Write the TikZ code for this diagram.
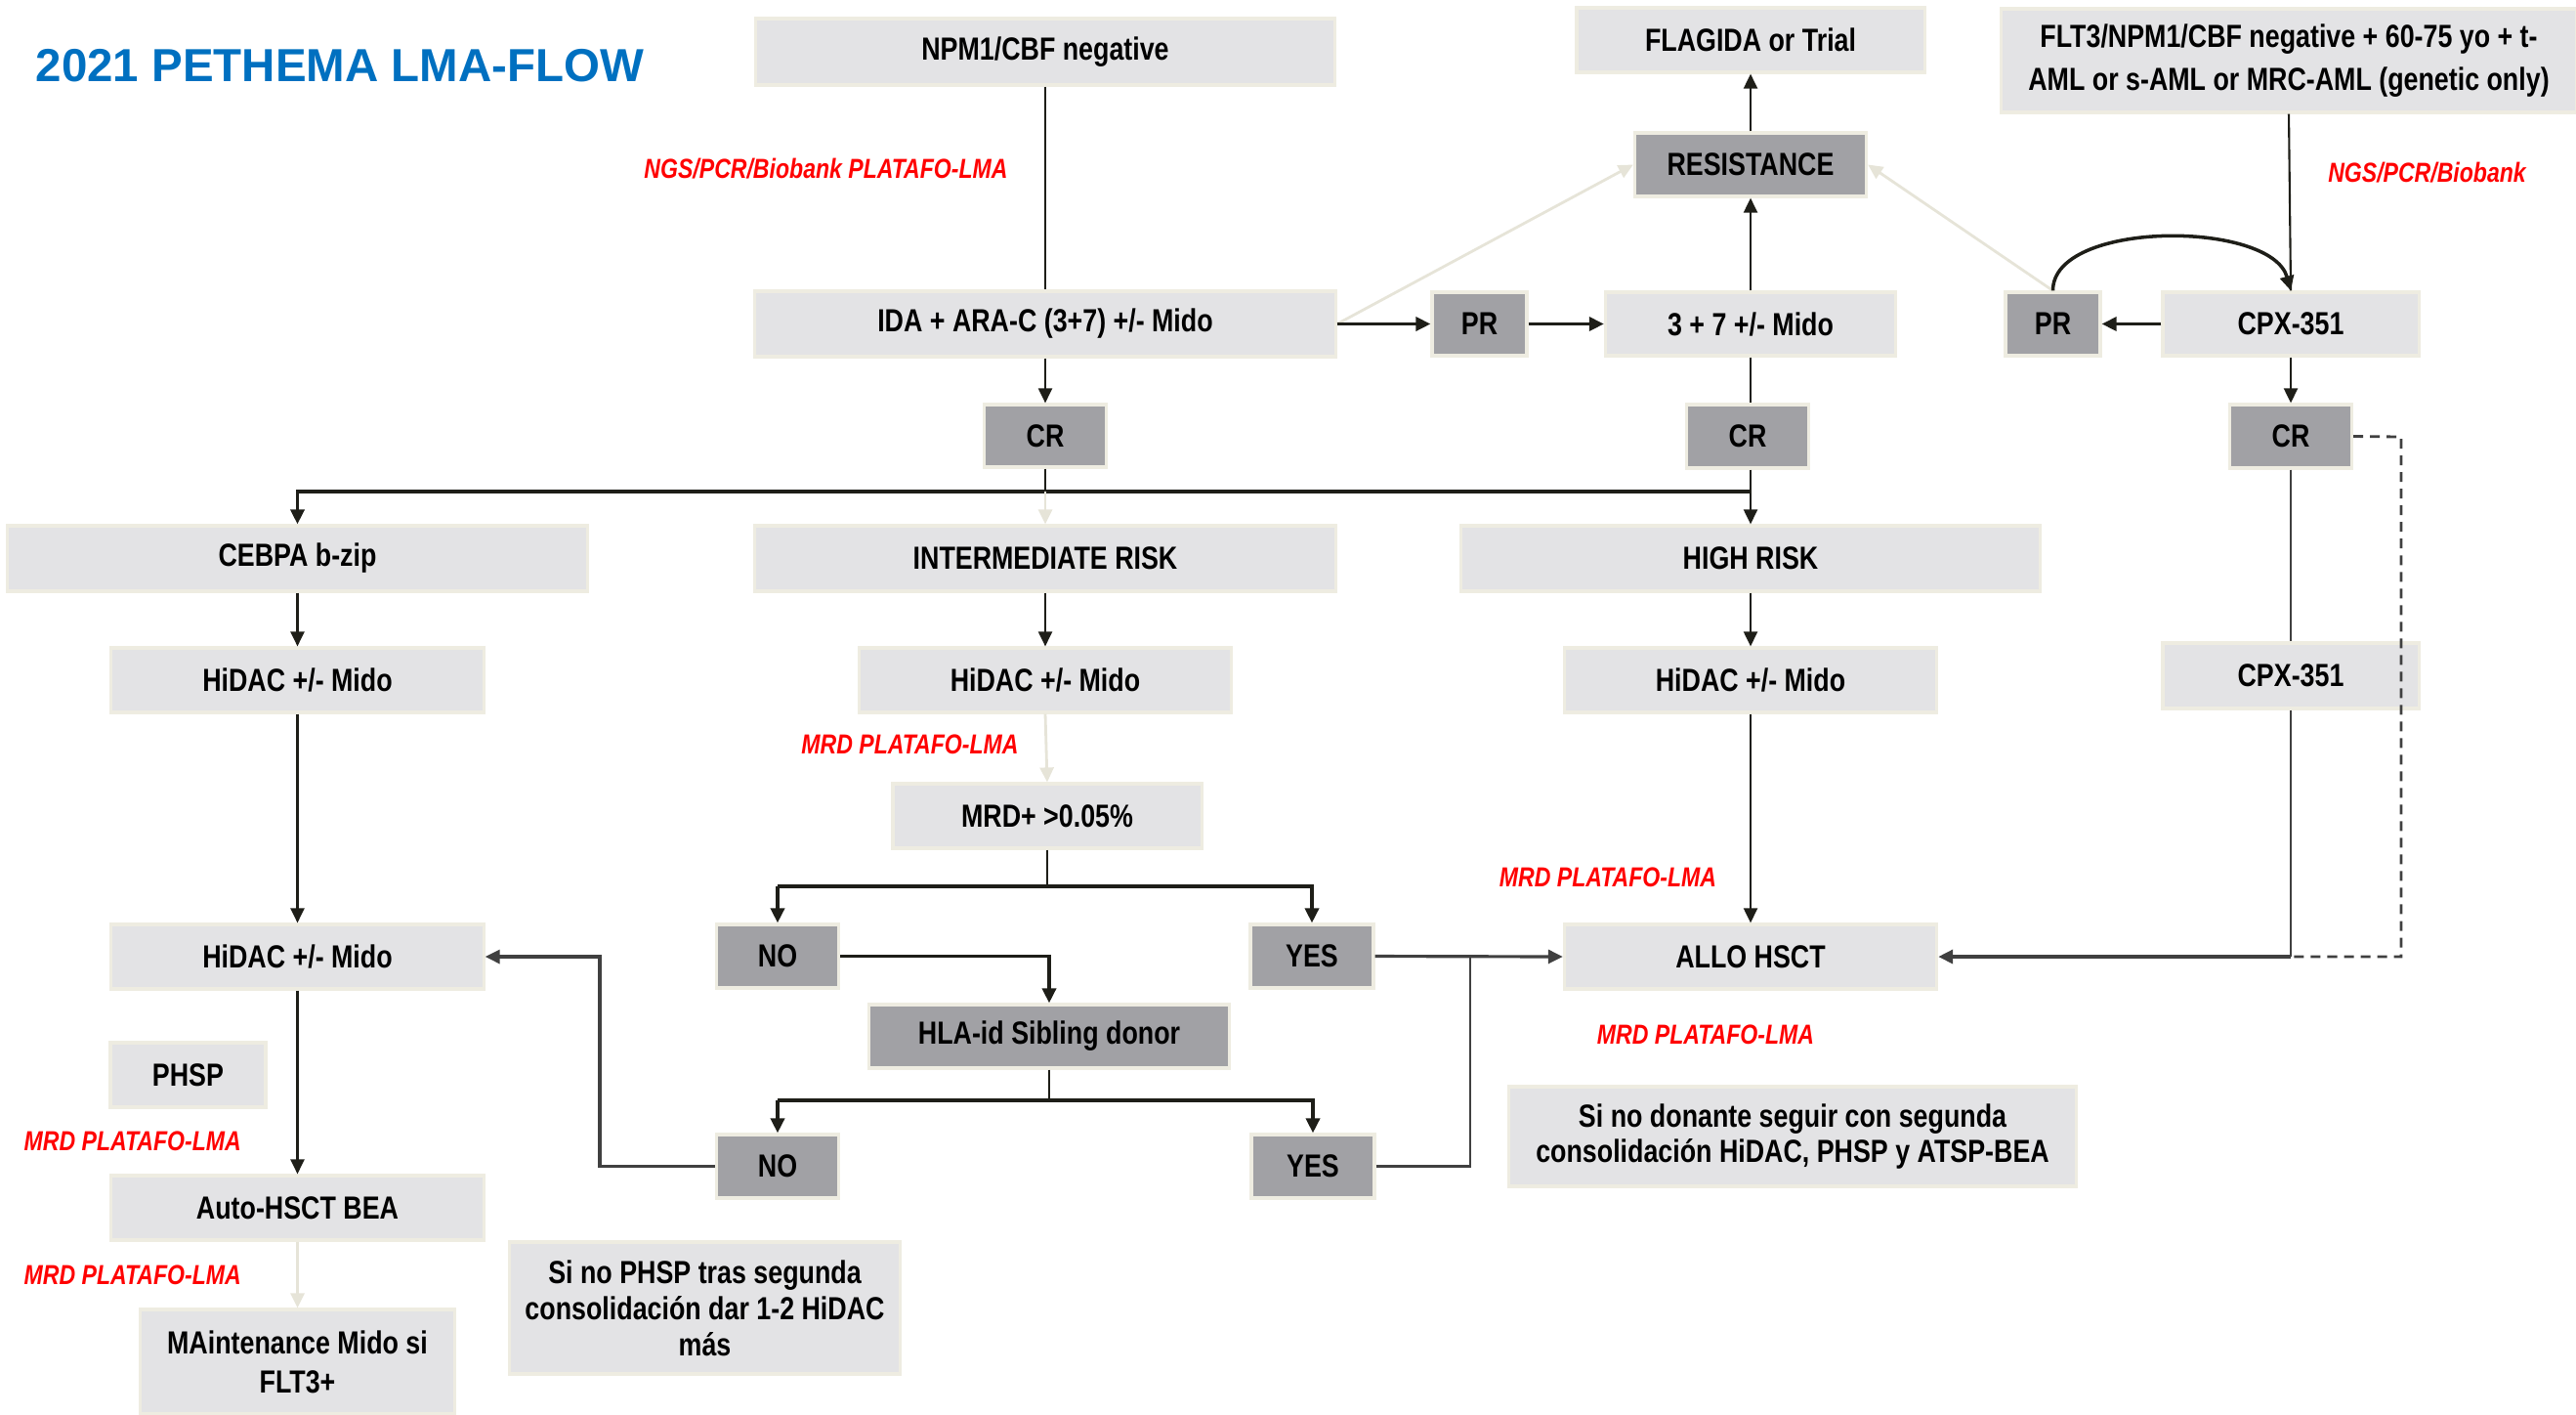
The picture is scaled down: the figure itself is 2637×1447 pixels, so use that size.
\documentclass[tikz,border=0pt]{standalone}
\usepackage{fontspec}
\setmainfont{Liberation Sans}[FakeStretch=0.82]
\newfontfamily\titlefont{Liberation Sans}
\usetikzlibrary{arrows.meta}
\definecolor{lfill}{HTML}{E3E3E5}
\definecolor{dfill}{HTML}{A1A1A5}
\definecolor{boxb}{HTML}{EEECE1}
\definecolor{lk}{HTML}{1E1E18}
\definecolor{dk}{HTML}{404040}
\definecolor{lt}{HTML}{E6E4D8}
\definecolor{titleblue}{HTML}{0070C0}
\definecolor{redtxt}{HTML}{FF0000}
\begin{document}
\begin{tikzpicture}[x=0.01cm,y=-0.01cm,
  lbox/.style={draw=boxb,line width=0.9pt,fill=lfill,inner sep=0pt,align=center,
    font=\bfseries\fontsize{9.3}{11}\selectfont},
  dbox/.style={lbox,fill=dfill},
  redlab/.style={text=redtxt,inner sep=0pt,font=\bfseries\itshape\fontsize{8.0}{9}\selectfont},
  conn/.style={draw=lk,line width=0.6pt},
  thk/.style={line width=1.0pt},
  tip/.style={-{Triangle[length=0.15cm,width=0.14cm]}},
  arr/.style={conn,tip},
  darr/.style={draw=dk,line width=0.9pt,tip},
  dline/.style={draw=dk,line width=0.8pt},
  larr/.style={draw=lt,line width=0.8pt,tip},
  dashln/.style={draw=dk,line width=0.8pt,dash pattern=on 0.1cm off 0.07cm}
]
\useasboundingbox (0,0) rectangle (2637,1447);

% title
\node[anchor=west,inner sep=0pt,text=titleblue,font=\titlefont\bfseries\fontsize{13.5}{16}\selectfont] (title) at (36,67) {2021 PETHEMA LMA-FLOW};

% top row
\node[lbox,minimum width=5.93cm,minimum height=0.68cm] (npm) at (1070,53) {NPM1/CBF negative};
\node[lbox,minimum width=3.56cm,minimum height=0.66cm] (flag) at (1792,41) {FLAGIDA or Trial};
\node[lbox,minimum width=5.88cm,minimum height=1.06cm,font=\bfseries\fontsize{9.3}{12.5}\selectfont] (flt) at (2343,62) {FLT3/NPM1/CBF negative + 60-75 yo + t-\\AML or s-AML or MRC-AML (genetic only)};
\node[dbox,minimum width=2.37cm,minimum height=0.65cm] (res) at (1792,168.5) {RESISTANCE};

% induction row
\node[lbox,minimum width=5.94cm,minimum height=0.67cm] (ida) at (1070,331.5) {IDA + ARA-C (3+7) +/- Mido};
\node[dbox,minimum width=0.97cm,minimum height=0.65cm] (pr1) at (1514.5,331.5) {PR};
\node[lbox,minimum width=2.97cm,minimum height=0.65cm] (st) at (1792,331.5) {3 + 7 +/- Mido};
\node[dbox,minimum width=0.97cm,minimum height=0.65cm] (pr2) at (2101.5,331.5) {PR};
\node[lbox,minimum width=2.62cm,minimum height=0.65cm] (cpx) at (2345,331.5) {CPX-351};

% CR row
\node[dbox,minimum width=1.25cm,minimum height=0.64cm] (crL) at (1070,446) {CR};
\node[dbox,minimum width=1.25cm,minimum height=0.65cm] (crM) at (1789,446.5) {CR};
\node[dbox,minimum width=1.25cm,minimum height=0.65cm] (crR) at (2345,446.5) {CR};

% risk row
\node[lbox,minimum width=5.94cm,minimum height=0.67cm] (cebpa) at (304.5,571.5) {CEBPA b-zip};
\node[lbox,minimum width=5.94cm,minimum height=0.67cm] (inter) at (1070,571.5) {INTERMEDIATE RISK};
\node[lbox,minimum width=5.93cm,minimum height=0.67cm] (high) at (1792,571.5) {HIGH RISK};

% consolidation row
\node[lbox,minimum width=3.81cm,minimum height=0.66cm] (hidL) at (304.5,696) {HiDAC +/- Mido};
\node[lbox,minimum width=3.81cm,minimum height=0.66cm] (hidM) at (1070,696) {HiDAC +/- Mido};
\node[lbox,minimum width=3.81cm,minimum height=0.66cm] (hidR) at (1792,696) {HiDAC +/- Mido};
\node[lbox,minimum width=2.62cm,minimum height=0.67cm] (cpx2) at (2345,691.5) {CPX-351};

\node[lbox,minimum width=3.16cm,minimum height=0.66cm] (mrd) at (1072,835) {MRD+ >0.05\%};

% decision rows
\node[dbox,minimum width=1.25cm,minimum height=0.65cm] (no1) at (796,978.5) {NO};
\node[dbox,minimum width=1.26cm,minimum height=0.65cm] (yes1) at (1343,978.5) {YES};
\node[lbox,minimum width=3.81cm,minimum height=0.66cm] (hidL2) at (304.5,979) {HiDAC +/- Mido};
\node[lbox,minimum width=3.81cm,minimum height=0.66cm] (allo) at (1792,979) {ALLO HSCT};
\node[dbox,minimum width=3.68cm,minimum height=0.65cm] (hla) at (1074,1060.5) {HLA-id Sibling donor};
\node[dbox,minimum width=1.25cm,minimum height=0.65cm] (no2) at (796,1193.5) {NO};
\node[dbox,minimum width=1.26cm,minimum height=0.65cm] (yes2) at (1344,1193.5) {YES};

% lower left
\node[lbox,minimum width=1.59cm,minimum height=0.66cm] (phsp) at (192.5,1100) {PHSP};
\node[lbox,minimum width=3.81cm,minimum height=0.66cm] (auto) at (304.5,1236) {Auto-HSCT BEA};
\node[lbox,minimum width=3.21cm,minimum height=1.07cm,font=\bfseries\fontsize{9.3}{11.3}\selectfont] (maint) at (304.5,1393.5) {MAintenance Mido si\\FLT3+};
\node[lbox,minimum width=3.99cm,minimum height=1.35cm,font=\bfseries\fontsize{9.3}{10.5}\selectfont] (sinophsp) at (721.5,1338.5) {Si no PHSP tras segunda\\consolidación dar 1-2 HiDAC\\más};
\node[lbox,minimum width=5.80cm,minimum height=1.02cm,font=\bfseries\fontsize{9.3}{10.5}\selectfont] (sinodon) at (1835,1163) {Si no donante seguir con segunda\\consolidación HiDAC, PHSP y ATSP-BEA};

% red labels
\node[redlab] (lab1) at (845.5,173) {NGS/PCR/Biobank PLATAFO-LMA};
\node[redlab] (lab2) at (2484.5,177) {NGS/PCR/Biobank};
\node[redlab] (lab3) at (931.5,762) {MRD PLATAFO-LMA};
\node[redlab] (lab4) at (1646,898) {MRD PLATAFO-LMA};
\node[redlab] (lab5) at (1746,1059) {MRD PLATAFO-LMA};
\node[redlab,anchor=west] (lab6) at (24,1168) {MRD PLATAFO-LMA};
\node[redlab,anchor=west] (lab7) at (24,1305) {MRD PLATAFO-LMA};

% junction coordinates
\coordinate (busY) at (0,503);
\coordinate (mrdbus) at (0,907);
\coordinate (hlabus) at (0,1126);
\coordinate (cpxJ) at (2345,979);
\coordinate (yesJ) at (1505,979);
\coordinate (noJ) at (614,979);
\coordinate (dashR) at (2458,447);
\coordinate (dashB) at (2458,979);

% top connectors
\draw[conn] (npm.south) -- (ida.north);
\draw[arr] (ida.south) -- (crL.north);
\draw[larr] (ida.east) -- (res.west);
\draw[arr,thk] (ida.east) -- (pr1.west);
\draw[arr,thk] (pr1.east) -- (st.west);
\draw[arr] (st.north) -- (res.south);
\draw[arr] (res.north) -- (flag.south);
\draw[arr,thk] (cpx.west) -- (pr2.east);
\draw[larr] (pr2.north) -- (res.east);
\draw[conn] (flt.south) -- (cpx.north);
\draw[arr,thk] (pr2.north) .. controls (2101,225) and (2325,225) .. (cpx.north);
\draw[arr] (cpx.south) -- (crR.north);
\draw[conn] (st.south) -- (st.south |- crM.north);

% CR bus
\draw[arr] (high.north |- crM.south) -- (high.north);
\draw[arr,thk] (high.north |- busY) -- (cebpa.north |- busY) -- (cebpa.north);
\draw[conn] (crL.south) -- (crL.south |- busY);
\draw[larr] (crL.south |- busY) -- (inter.north);

% columns
\draw[arr] (cebpa.south) -- (hidL.north);
\draw[arr] (hidL.south) -- (hidL2.north);
\draw[arr] (inter.south) -- (hidM.north);
\draw[larr] (hidM.south) -- (mrd.north);
\draw[arr] (high.south) -- (hidR.north);
\draw[arr] (hidR.south) -- (allo.north);
\draw[dline] (crR.south) -- (cpx2.north);
\draw[dline] (cpx2.south) -- (cpxJ);
\draw[darr,thk] (cpxJ) -- (allo.east);
\draw[dashln] (crR.east) -- (dashR) -- (dashB) -- (cpxJ);

% MRD decision
\draw[conn] (mrd.south) -- (mrd.south |- mrdbus);
\draw[arr,thk] (no1.north |- mrdbus) -- (yes1.north |- mrdbus) -- (yes1.north);
\draw[arr,thk] (no1.north |- mrdbus) -- (no1.north);
\draw[arr,thk] (no1.east) -- (no1.east -| hla.north) -- (hla.north);
\draw[darr] (yes1.east) -- (allo.west);
\draw[dline] (yes2.east) -- (yes2.east -| yesJ) -- (yesJ);

% HLA decision
\draw[conn] (hla.south) -- (hla.south |- hlabus);
\draw[arr,thk] (no2.north |- hlabus) -- (yes2.north |- hlabus) -- (yes2.north);
\draw[arr,thk] (no2.north |- hlabus) -- (no2.north);
\draw[darr] (no2.west) -- (no2.west -| noJ) -- (noJ |- hidL2.east) -- (hidL2.east);

% lower left
\draw[arr] (hidL2.south) -- (auto.north);
\draw[larr] (auto.south) -- (maint.north);
\end{tikzpicture}
\end{document}
